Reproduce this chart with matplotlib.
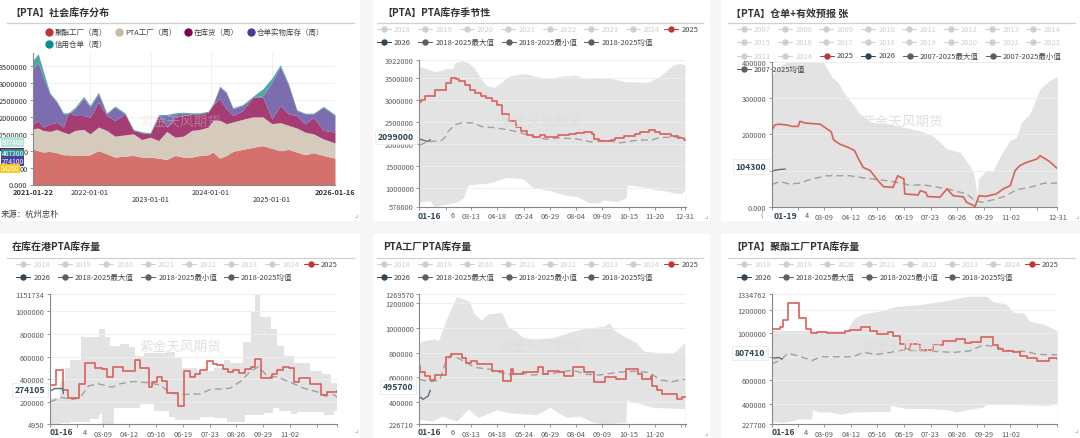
import matplotlib
matplotlib.use("Agg")
import matplotlib.pyplot as plt
import pandas as pd
from matplotlib.patches import Rectangle

plt.rcParams['font.family'] = ['Noto Sans CJK SC', 'DejaVu Sans']

W, H = 1080, 439

# stacked panel, all in 10k, cumulative tops
stack_dates = ['2021-01-22', '2021-02-22', '2021-03-24', '2021-05-04', '2021-06-14', '2021-07-24', '2021-08-24',
               '2021-10-03', '2021-11-23', '2022-01-01', '2022-02-20', '2022-04-11', '2022-05-31', '2022-07-30',
               '2022-09-19', '2022-11-08', '2022-12-29', '2023-02-18', '2023-04-08', '2023-05-28', '2023-07-17',
               '2023-09-05', '2023-10-25', '2023-12-14', '2024-01-12', '2024-02-21', '2024-04-01', '2024-05-11',
               '2024-07-10', '2024-09-08', '2024-11-07', '2025-01-01', '2025-02-20', '2025-04-11', '2025-05-31',
               '2025-07-20', '2025-09-08', '2025-11-07', '2026-01-16']
top_polyester = [105, 100, 96, 98, 94, 88, 88, 86, 86, 88, 100, 91, 81, 84, 86, 81, 81, 78, 74, 86, 81, 81, 86, 88,
                 96, 78, 86, 98, 104, 110, 115, 107, 100, 104, 96, 88, 94, 86, 78]
top_pta = [165, 167, 160, 157, 163, 155, 150, 160, 163, 150, 170, 160, 143, 147, 150, 133, 140, 130, 157, 140, 143,
           160, 163, 170, 190, 190, 180, 185, 193, 200, 200, 180, 183, 175, 167, 155, 150, 135, 123]
top_instock = [179, 189, 170, 179, 184, 170, 214, 204, 204, 199, 243, 204, 189, 209, 160, 153, 150, 204, 170, 199,
               204, 209, 209, 214, 236, 254, 224, 204, 219, 258, 258, 194, 234, 209, 204, 179, 199, 160, 155]
top_receipt = [342, 362, 317, 268, 244, 209, 209, 224, 255, 229, 268, 209, 229, 209, 160, 153, 150, 204, 204, 209,
               211, 209, 209, 214, 236, 288, 271, 224, 234, 258, 263, 303, 348, 294, 219, 209, 209, 229, 204]
top_credit = [367, 387, 337, 271, 247, 212, 212, 229, 260, 234, 273, 212, 232, 212, 163, 156, 153, 207, 207, 212,
              214, 212, 212, 217, 239, 291, 274, 227, 237, 261, 283, 315, 354, 298, 221, 211, 211, 231, 207]

# PTA seasonal
p2_upper_d = [0, 10, 20, 28, 37, 46, 49, 58, 67, 76, 83, 92, 103, 113, 122, 138, 147, 160, 179, 192, 215, 229, 242,
              261, 283, 306, 315, 329, 347, 356, 364]
p2_upper = [377, 372, 365, 367, 372, 372, 386, 390, 386, 372, 352, 333, 329, 341, 354, 360, 360, 354, 350, 354, 357,
            348, 352, 350, 342, 341, 342, 354, 379, 384, 380]
p2_lower_d = [0, 15, 20, 37, 51, 60, 67, 92, 103, 119, 142, 156, 179, 201, 215, 233, 247, 251, 270, 283, 285, 306,
              320, 342, 349, 360, 364]
p2_lower = [68, 71, 58, 63, 68, 77, 107, 111, 115, 124, 121, 101, 94, 83, 81, 66, 66, 73, 69, 77, 107, 103, 97, 92,
            88, 88, 96]
p2_2025_d = [0, 2, 8, 22, 37, 43, 50, 55, 63, 70, 77, 85, 92, 100, 107, 113, 123, 132, 140, 148, 156, 165, 172, 190,
             205, 215, 225, 236, 240, 246, 262, 268, 280, 295, 303, 315, 323, 330, 345, 355, 362, 364]
p2_2025 = [296, 300, 310, 323, 338, 351, 349, 344, 334, 324, 317, 310, 306, 298, 289, 269, 252, 240, 229, 220, 216,
           220, 216, 220, 222, 225, 228, 222, 212, 207, 210, 215, 218, 224, 228, 233, 228, 222, 219, 213, 210, 210]
p2_mean_d = [0, 10, 30, 35, 40, 50, 60, 75, 85, 100, 120, 135, 150, 165, 175, 190, 215, 235, 255, 275, 300, 320, 330,
             350, 364]
p2_mean = [197, 205, 208, 215, 230, 245, 249, 248, 240, 238, 233, 228, 220, 214, 211, 214, 212, 205, 209, 203, 209,
           210, 215, 216, 216]
p2_2026_d = [0, 5, 12, 15]
p2_2026 = [212, 209, 206, 210]

# warehouse receipts
p3_upper_d = [0, 6, 19, 45, 66, 77, 85, 92, 102, 113, 126, 147, 168, 190, 207, 224, 241, 253, 258, 263, 264, 275, 283,
              292, 304, 313, 319, 330, 343, 355, 365]
p3_upper = [36, 38, 40, 40.2, 39.8, 35.7, 34.3, 31.5, 28.8, 25.6, 23.3, 23, 22, 21, 19.4, 16, 15, 11.4, 9.5, 3, 7.7,
            10.2, 10, 14, 18.2, 19.2, 23.3, 25.6, 32.5, 34.8, 36]
p3_lower_d = [0, 365]
p3_lower = [0, 0]
p3_2025_d = [0, 4, 9, 19, 26, 34, 36, 43, 62, 68, 76, 79, 87, 98, 106, 111, 117, 126, 136, 143, 155, 161, 169, 170,
             187, 190, 197, 199, 215, 224, 232, 245, 249, 260, 265, 273, 287, 296, 305, 311, 317, 326, 339, 343, 354,
             365]
p3_2025 = [21, 22.6, 22.8, 22.6, 22.2, 22.2, 23.6, 23.1, 22.8, 21.9, 20.7, 18.5, 17.3, 16.4, 15.5, 13.2, 10.9, 10,
           7.2, 5.6, 5.4, 8.6, 7.7, 3.6, 3.3, 4.5, 4, 2.9, 2.7, 5, 3.1, 2.8, 1.3, 0.2, 3.1, 2.9, 3.6, 5, 5.9, 10,
           11.4, 12.3, 13.2, 14.1, 12.7, 10.6]
p3_mean_d = [0, 11, 23, 36, 51, 70, 100, 121, 138, 155, 177, 194, 224, 249, 260, 270, 287, 300, 313, 330, 347, 365]
p3_mean = [6.2, 7, 6.3, 6.6, 7.7, 8.6, 8.6, 7.9, 7.5, 7, 6, 6.1, 5, 3.6, 1.7, 1.3, 2.2, 3.1, 4.8, 5.4, 6.5, 6.6]
p3_2026_d = [2, 9, 17]
p3_2026 = [10, 10.3, 10.43]

# in-stock / in-port
p4_upper_d = [0, 13, 19, 26, 40, 53, 62, 70, 76, 89, 100, 108, 119, 149, 159, 168, 187, 208, 221, 229, 246, 255, 261,
              267, 281, 289, 297, 310, 331, 346, 357, 365]
p4_upper = [23.5, 38.4, 50, 56.7, 77, 77.5, 84, 77, 69, 71, 68.6, 60.6, 62.7, 63.6, 59, 50, 47.3, 50, 56.7, 54.7,
            72.4, 99, 114, 95.3, 84, 69.3, 60.6, 54.7, 47.3, 44.3, 36.9, 36.9]
p4_lower_d = [0, 13, 25, 51, 62, 66, 81, 115, 132, 151, 159, 191, 208, 225, 248, 272, 284, 291, 306, 314, 348, 361, 365]
p4_lower = [0.5, 1.5, 2.5, 5, 9, 0.5, 15, 18.5, 12, 7, 4, 7, 6, 2.5, 8.7, 10, 15, 12, 9.5, 11, 8, 12, 12]
p4_2025_d = [0, 8, 16, 23, 37, 44, 57, 66, 73, 80, 93, 108, 115, 126, 130, 136, 142, 149, 163, 171, 178, 185, 191,
             200, 207, 213, 220, 227, 233, 240, 248, 255, 261, 268, 282, 289, 296, 304, 310, 317, 331, 345, 352, 365]
p4_2025 = [34.5, 47.9, 30.1, 23, 36, 54, 50.2, 48.7, 42.2, 50.8, 47, 56.7, 50.2, 33, 37.8, 41.9, 38.4, 28, 16.1, 47.3,
           41.9, 44.9, 48.1, 56.1, 53.8, 52.3, 48.7, 46.4, 47.9, 45.8, 49, 50.8, 57.6, 40.7, 44.9, 47.9, 51.1, 49.6,
           37.8, 40.7, 36, 25.9, 28.9, 29.5]
p4_mean_d = [0, 15, 27, 38, 49, 61, 79, 89, 106, 123, 140, 153, 167, 191, 204, 229, 242, 255, 265, 276, 289, 310, 323,
             344, 350, 361, 365]
p4_mean = [20, 24, 22, 23.5, 34, 36, 33, 36, 38, 37, 35, 28, 26.5, 27, 31, 32, 38, 47, 51, 43, 42, 36, 32, 28, 25,
           26.5, 24]
p4_2026_d = [0, 6, 16, 17]
p4_2026 = [29.5, 31.8, 31.8, 27.4]

# PTA plants
p5_upper_d = [0, 3, 21, 26, 36, 44, 51, 69, 74, 85, 94, 113, 122, 133, 142, 160, 183, 210, 224, 237, 253, 260, 267,
              281, 297, 308, 329, 347, 364]
p5_upper = [87, 89, 91, 89, 105, 116, 125, 121, 112, 106, 111, 112, 100.5, 97, 92, 91, 92, 97, 99, 100, 101, 104, 98,
            93, 88, 81, 80, 79, 88]
p5_lower_d = [0, 17, 31, 51, 67, 81, 106, 119, 160, 179, 201, 220, 238, 254, 283, 284, 320, 364]
p5_lower = [26.5, 25, 29, 25, 34.5, 28, 34, 32, 30, 36, 28, 29, 24, 22.7, 24, 42, 36, 35]
p5_2025_d = [0, 1, 8, 14, 21, 37, 43, 51, 58, 64, 71, 79, 91, 99, 114, 125, 128, 142, 163, 170, 177, 192, 198, 211,
             226, 240, 255, 269, 283, 299, 305, 317, 319, 326, 333, 351, 353, 360, 364]
p5_2025 = [69, 64.7, 61, 58, 62, 76.5, 79, 79, 76, 72, 73, 70.6, 71, 65, 57, 66.6, 63, 64.4, 68, 63, 65, 64, 61, 68,
           64, 56, 60, 59, 66.6, 62.6, 59, 61, 53, 50, 46.5, 46.5, 43, 44.4, 44.6]
p5_mean_d = [0, 5, 17, 28, 35, 44, 56, 76, 97, 111, 124, 142, 156, 179, 210, 229, 247, 270, 292, 315, 331, 347, 364]
p5_mean = [58.6, 57.8, 56.7, 57.8, 70.6, 78.6, 74.6, 68, 66.6, 64, 62.6, 63.4, 62, 63, 65.8, 62.6, 62, 64, 65, 64,
           57.8, 56.7, 58.6]
p5_2026_d = [0, 5, 12, 15]
p5_2026 = [44.6, 42.5, 45, 49.6]

# polyester plants
p6_upper_d = [0, 96, 100, 106, 117, 138, 160, 190, 215, 232, 249, 275, 283, 300, 309, 322, 330, 347, 365]
p6_upper = [102.5, 102.5, 107.6, 113, 116.6, 119, 123, 124.5, 127, 129, 131.5, 131.5, 126.8, 125, 118, 117.5, 110,
            108, 102]
p6_lower_d = [0, 13, 26, 34, 51, 52, 60, 75, 89, 102, 151, 152, 172, 198, 224, 236, 258, 270, 275, 300, 351, 365]
p6_lower = [25.3, 24, 25.5, 27, 27, 35, 33, 33, 31, 33, 33.5, 38.6, 36, 36, 35, 33, 36, 37, 40, 39.5, 38.6, 39.6]
p6_2025_d = [0, 11, 15, 21, 35, 44, 50, 58, 71, 79, 94, 100, 114, 126, 134, 149, 155, 164, 170, 177, 189, 206, 219,
             236, 247, 255, 268, 283, 289, 296, 309, 317, 326, 339, 354, 365]
p6_2025 = [103.4, 105, 111, 126, 112.7, 103.4, 100, 101.4, 100, 100.6, 102, 103, 105.4, 102, 99, 101, 98, 91, 87, 91,
           86, 90, 93.5, 95, 92, 93, 97, 90, 87, 85, 84, 81, 79, 76.6, 79, 78]
p6_mean_d = [0, 11, 21, 32, 47, 51, 62, 79, 104, 117, 134, 151, 166, 198, 232, 253, 270, 283, 305, 326, 339, 365]
p6_mean = [74, 77, 83, 81, 78, 76.6, 80, 80, 80, 83.7, 82, 83.7, 85.6, 85, 83.7, 85, 90, 89, 85, 84.5, 82, 81.7]
p6_2026_d = [0, 4, 9, 13]
p6_2026 = [79, 79, 79.4, 78]

GRAY_TEXT = '#5a5a5a'
RED = '#c23531'
NAVY = '#2f4554'
BAND = '#e3e3e3'

fig = plt.figure(figsize=(W / 100, H / 100), dpi=100, facecolor='#f6f6f6')

# page layer in pixel coordinates
page = fig.add_axes([0, 0, 1, 1], zorder=0)
page.set_xlim(0, W)
page.set_ylim(H, 0)
page.axis('off')
over = fig.add_axes([0, 0, 1, 1], zorder=10)
over.set_xlim(0, W)
over.set_ylim(H, 0)
over.axis('off')
over.patch.set_alpha(0)

for l, t, r, b in [(0, 0, 360, 222), (373, 0, 710, 222), (721, 0, 1080, 222),
                   (0, 235, 360, 439), (373, 235, 710, 439), (721, 235, 1080, 439)]:
    page.add_patch(Rectangle((l, t), r - l, b - t, fc='white', ec='none'))

# little resize handles in the panel corners
for x, y in [(357, 218), (707, 219), (1078, 219), (357, 433), (707, 436), (1077, 433)]:
    over.plot([x - 2, x, x], [y, y, y - 2], color='#aaaaaa', lw=0.5)


def px_axes(l, r, t, b):
    ax = fig.add_axes([l / W, 1 - b / H, (r - l) / W, (b - t) / H], zorder=2)
    ax.patch.set_alpha(0)
    for s in ['top', 'right']:
        ax.spines[s].set_visible(False)
    for s in ['left', 'bottom']:
        ax.spines[s].set_color('#888888')
        ax.spines[s].set_linewidth(0.8)
        ax.spines[s].set_zorder(6)
    ax.tick_params(length=2.5, width=0.6, color='#888888', labelsize=5.3, labelcolor=GRAY_TEXT, pad=1.5)
    return ax


def header(title, x, y, rule_l, rule_r, rule_y):
    over.text(x, y, title, fontsize=7.2, fontweight='bold', color='#333333', va='center', ha='left')
    over.plot([rule_l, rule_r], [rule_y, rule_y], color='#d0d0d0', lw=0.9)


def legend_item(x, y, text, color, active=True):
    # x is the icon centre, text starts 10 px later
    over.plot([x - 7, x + 7], [y, y], color=color, lw=0.7)
    over.plot([x], [y], 'o', ms=4.6, color=color, mew=0)
    over.text(x + 10.5, y, text, fontsize=5.4, color='#444444' if active else '#cfcfcf', va='center', ha='left')


def watermark(x, y, alpha=0.9):
    over.text(x, y, '紫金天风期货', fontsize=9.8, color='#dddddd', ha='center', va='center', alpha=alpha)


def season_panel(box, ylim, yticks, ylabels, xticks, xlabels, upper, lower, y25, mean, y26,
                 band_steps=False, line_steps=True):
    ax = px_axes(*box)
    ax.set_xlim(0, 365)
    ax.set_ylim(*ylim)
    mode = 'post' if band_steps else None
    ax.fill_between(upper[0], [v * 1e4 for v in upper[1]], ylim[0], color=BAND, step=mode, lw=0, zorder=1)
    ax.fill_between(lower[0], [v * 1e4 for v in lower[1]], ylim[0], color='white', step=mode, lw=0, zorder=1.1)
    for t in yticks:
        ax.axhline(t, color='#eeeeee', lw=0.7, zorder=1.5)
    ax.plot(mean[0], [v * 1e4 for v in mean[1]], color='#a0a0a0', lw=1.0, ls=(0, (5, 3)), zorder=3)
    ax.plot(y25[0], [v * 1e4 for v in y25[1]], color='#d9605c', lw=1.2,
            drawstyle='steps-post' if line_steps else 'default', zorder=4)
    ax.plot(y26[0], [v * 1e4 for v in y26[1]], color='#5a6f80', lw=1.0, zorder=5)
    ax.set_yticks(yticks)
    ax.set_yticklabels(ylabels)
    ax.set_xticks(xticks)
    ax.set_xticklabels(xlabels)
    return ax


# panel 1, stacked area
ax1 = px_axes(33, 335, 54, 185.5)
ax1.grid(axis='y', color='#f0f0f0', lw=0.7)
ax1.grid(axis='x', color='#f0f0f0', lw=0.7)
ax1.set_axisbelow(True)
stack_x = pd.to_datetime(stack_dates)
to_val = lambda v: [i * 1e4 for i in v]
ax1.fill_between(stack_x, to_val(top_polyester), 0, color='#d4716c', lw=0, zorder=2)
ax1.fill_between(stack_x, to_val(top_pta), to_val(top_polyester), color='#d5cabb', lw=0, zorder=2)
ax1.fill_between(stack_x, to_val(top_instock), to_val(top_pta), color='#a53c73', lw=0, zorder=2)
ax1.fill_between(stack_x, to_val(top_receipt), to_val(top_instock), color='#7c6db0', lw=0, zorder=2)
ax1.fill_between(stack_x, to_val(top_credit), to_val(top_receipt), color='#4ea7a5', lw=0, zorder=2)
ax1.set_xlim(stack_x[0], stack_x[-1])
ax1.set_ylim(0, 3890000)
ax1.set_yticks([0, 500000, 1000000, 1500000, 2000000, 2500000, 3000000, 3500000])
# the value boxes on the left cover most of the 500000 and 1000000 labels
ax1.set_yticklabels(['0.000', '00', '0', '1500000', '2000000', '2500000', '3000000', '3500000'], color='#333333')
ax1.set_xticks(pd.to_datetime(['2022-01-01', '2023-01-01', '2024-01-01', '2025-01-01']))
ax1.set_xticklabels([])
ax1.tick_params(axis='x', length=0)

header('【PTA】社会库存分布', 10, 14, 7, 354, 23.5)
for x, y, label, col in [(49, 33, '聚酯工厂（周）', '#c23531'), (119, 33, 'PTA工厂（周）', '#c9b8a4'),
                         (188, 33, '在库货（周）', '#7f0050'), (251, 33, '仓单实物库存（周）', '#483a9c'),
                         (49, 45, '信用仓单（周）', '#0a8a94')]:
    over.plot([x], [y], 'o', ms=6, color=col, mew=0)
    over.text(x + 6, y, label, fontsize=5.4, color='#444444', va='center', ha='left')
for x, y, label, bold in [(33.5, 193, '2021-01-22', True), (90, 193, '2022-01-01', False),
                          (150.5, 200, '2023-01-01', False), (211, 193, '2024-01-01', False),
                          (271.5, 200, '2025-01-01', False), (335, 193, '2026-01-16', True)]:
    over.text(x, y, label, fontsize=5.3, color='#333333', ha='center', va='center',
              fontweight='bold' if bold else 'normal')
over.text(1, 214, '来源：杭州忠朴', fontsize=6, color='#444444', va='center', ha='left')
over.add_patch(Rectangle((0, 149), 24, 2.5, fc='#7a1050', ec='none'))
for x, y, label, col in [(12.5, 143, '807400', '#b5e3da'), (12.5, 154.5, '467300', '#2a8d90'),
                         (12.5, 161.8, '274100', '#4a3f9e'), (10, 169.5, '54260', '#ffc81e')]:
    over.text(x, y, label, fontsize=4.8, color='white', ha='center', va='center',
              bbox=dict(boxstyle='square,pad=0.12', fc=col, ec='none'))
watermark(180, 122, alpha=0.35)

# panel 2
ticks36 = [0, 36, 71, 107, 143, 179, 215, 251, 287, 323, 359, 364]
labels36 = ['', '', '03-13', '04-18', '05-24', '06-29', '08-04', '09-09', '10-15', '11-20', '', '12-31']
season_panel((419.3, 685.7, 60.7, 207.5), (578600, 3922000),
             [578600, 1000000, 1500000, 2000000, 2500000, 3000000, 3500000, 3922000],
             ['578600', '1000000', '1500000', '2000000', '2500000', '3000000', '3500000', '3922000'],
             ticks36, labels36, (p2_upper_d, p2_upper), (p2_lower_d, p2_lower), (p2_2025_d, p2_2025),
             (p2_mean_d, p2_mean), (p2_2026_d, p2_2026))
header('【PTA】PTA库存季节性', 382, 14, 377, 703, 23.5)

# panel 3
ticks34 = [0, 34, 67, 101, 135, 169, 203, 237, 271, 305, 339, 365]
labels3 = ['', '', '03-09', '04-12', '05-16', '06-19', '07-23', '08-26', '09-29', '11-02', '', '12-31']
season_panel((771.7, 1057.3, 62.7, 208), (0, 400000), [0, 100000, 200000, 300000, 400000],
             ['0.000', '', '200000', '300000', '400000'], ticks34, labels3,
             (p3_upper_d, p3_upper), (p3_lower_d, p3_lower), (p3_2025_d, p3_2025), (p3_mean_d, p3_mean),
             (p3_2026_d, p3_2026), line_steps=False)
header('【PTA】仓单+有效预报 张', 731, 14, 728, 1075, 23.5)

# panel 4
labels4 = ['', '', '03-09', '04-12', '05-16', '06-19', '07-23', '08-26', '09-29', '11-02', '', '']
season_panel((50, 337, 295, 425), (4950, 1151734),
             [4950, 200000, 400000, 600000, 800000, 1000000, 1151734],
             ['4950', '200000', '400000', '600000', '800000', '1000000', '1151734'], ticks34, labels4,
             (p4_upper_d, p4_upper), (p4_lower_d, p4_lower), (p4_2025_d, p4_2025), (p4_mean_d, p4_mean),
             (p4_2026_d, p4_2026), band_steps=True)
header('在库在港PTA库存量', 12, 248, 7, 354, 258.5)

# panel 5
labels5 = ['', '', '03-13', '04-18', '05-24', '06-29', '08-04', '09-09', '10-15', '11-20', '', '']
season_panel((419.3, 685.7, 295, 425), (226710, 1269570),
             [226710, 400000, 600000, 800000, 1000000, 1200000, 1269570],
             ['226710', '400000', '600000', '800000', '1000000', '1200000', '1269570'], ticks36, labels5,
             (p5_upper_d, p5_upper), (p5_lower_d, p5_lower), (p5_2025_d, p5_2025), (p5_mean_d, p5_mean),
             (p5_2026_d, p5_2026))
header('PTA工厂PTA库存量', 383, 248, 377, 703, 258.5)

# panel 6
season_panel((771.7, 1057.3, 295, 425), (227700, 1334762),
             [227700, 400000, 600000, 800000, 1000000, 1200000, 1334762],
             ['227700', '400000', '600000', '', '1000000', '1200000', '1334762'], ticks34, labels4,
             (p6_upper_d, p6_upper), (p6_lower_d, p6_lower), (p6_2025_d, p6_2025), (p6_mean_d, p6_mean),
             (p6_2026_d, p6_2026))
header('【PTA】聚酯工厂PTA库存量', 731, 248, 728, 1075, 258.5)

# seasonal legends
year_labels = ['2018', '2019', '2020', '2021', '2022', '2023', '2024']
for left, y1, y2 in [(383.5, 30, 43), (23, 265, 278), (383.5, 265, 278), (744, 265, 278)]:
    for i, yr in enumerate(year_labels):
        legend_item(left + 41.5 * i, y1, yr, '#cfcfcf', active=False)
    legend_item(left + 41.5 * 7 - 3, y1, '2025', RED)
    legend_item(left, y2, '2026', NAVY)
    legend_item(left + 41.5, y2, '2018-2025最大值', '#5f5f5f')
    legend_item(left + 125, y2, '2018-2025最小值', '#5f5f5f')
    legend_item(left + 207.5, y2, '2018-2025均值', '#5f5f5f')

years3 = [2007, 2008, 2009, 2010, 2011, 2012, 2013, 2014, 2015, 2016, 2017, 2018, 2019, 2020, 2021, 2022, 2023, 2024]
for i, yr in enumerate(years3):
    legend_item(743.5 + 41.4 * (i % 8), 30 + 13.3 * (i // 8), str(yr), '#cfcfcf', active=False)
legend_item(826.5, 56.5, '2025', RED)
legend_item(868, 56.5, '2026', NAVY)
legend_item(909.5, 56.5, '2007-2025最大值', '#5f5f5f')
legend_item(992.5, 56.5, '2007-2025最小值', '#5f5f5f')
legend_item(743.5, 70, '2007-2025均值', '#5f5f5f')

# bold current value and date labels
for x, y, val, dx, dy, date in [(396, 138, '2099000', 429, 216.5, '01-16'), (751, 167.5, '104300', 785, 216.5, '01-19'),
                                (30, 391, '274105', 61, 433, '01-16'), (398, 388, '495700', 429, 433, '01-16'),
                                (750, 354, '807410', 783, 433, '01-16')]:
    over.text(x, y, val, fontsize=6.2, fontweight='bold', color=NAVY, ha='center', va='center',
              bbox=dict(boxstyle='square,pad=0.3', fc='white', ec='#e6e6e6', lw=0.5))
    over.text(dx, dy, date, fontsize=6.2, fontweight='bold', color=NAVY, ha='center', va='center')
for x, y, s in [(452.5, 216, '6'), (806.5, 216, '4'), (85, 433, '4'), (452.5, 433, '6'), (806, 433, '4'),
                (762, 216, '(')]:
    over.text(x, y, s, fontsize=5.3, color=GRAY_TEXT, ha='center', va='center')

for x, y in [(541, 122), (902, 122), (180, 347), (540, 347), (902, 347)]:
    watermark(x, y)

fig.savefig('out.png', dpi=100, facecolor=fig.get_facecolor())
